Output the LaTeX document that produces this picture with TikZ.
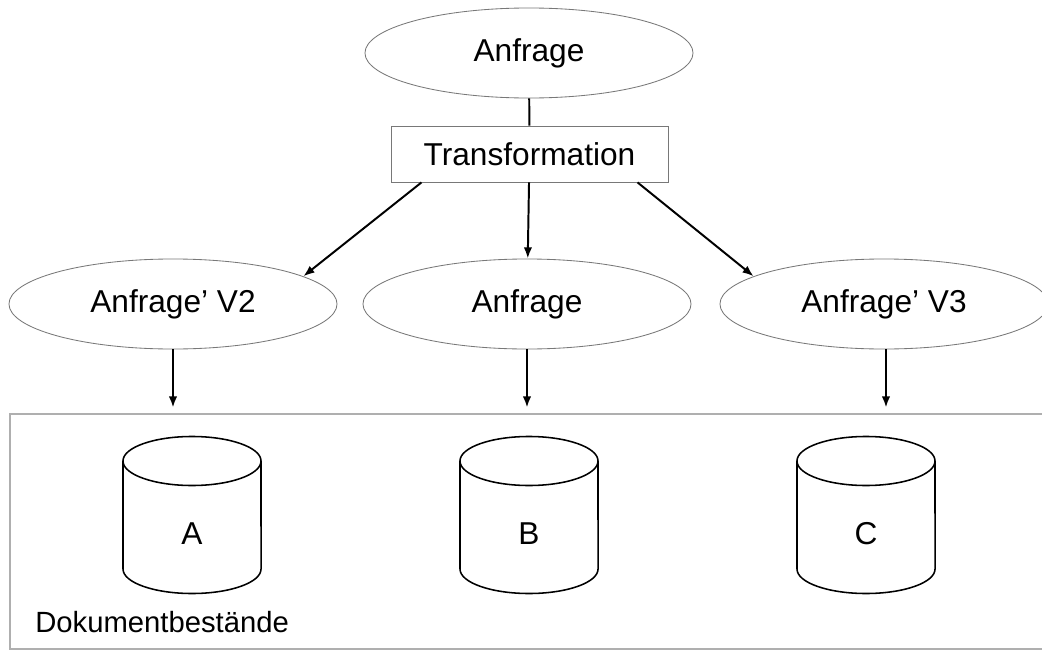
\documentclass[tikz,border=0pt]{standalone}
\usepackage{fontspec}
\setmainfont{Liberation Sans}
\usetikzlibrary{shapes.geometric,arrows.meta}
\definecolor{outline}{RGB}{120,120,120}
\definecolor{framegray}{RGB}{175,175,175}

\tikzset{
    query/.style    = {ellipse, draw=outline, line width=0.6pt, minimum width=8.2cm, minimum height=2.25cm,
                       inner sep=0pt, font=\fontsize{22.5}{27}\selectfont},
    transbox/.style = {rectangle, draw=outline, line width=0.6pt, minimum width=6.925cm, minimum height=1.4cm,
                       inner sep=0pt, font=\fontsize{22.5}{27}\selectfont},
    docframe/.style = {rectangle, draw=framegray, line width=1pt, minimum width=26.25cm, minimum height=5.875cm,
                       inner sep=0pt},
    dblabel/.style  = {font=\fontsize{22.5}{27}\selectfont, inner sep=0pt},
    docname/.style  = {font=\fontsize{20.8}{25}\selectfont, inner sep=0pt},
    link/.style     = {line width=1.4pt},
    arr/.style      = {link, -{Latex[length=8pt, width=6pt]}},
    cyl/.style      = {line width=1.1pt},
}

\begin{document}
\begin{tikzpicture}[x=0.025cm, y=-0.025cm]
    \useasboundingbox (0,0) rectangle (1042,651);
    \clip             (0,0) rectangle (1042,651);

    % Anfragen
    \node[query]    (q0) at (529,   53) {Anfrage};
    \node[transbox] (tr) at (529.5, 154) {Transformation};
    \node[query]    (v2) at (173,  304) {Anfrage' V2};
    \node[query]    (q1) at (527,  304) {Anfrage};
    \node[query]    (v3) at (884,  304) {Anfrage' V3};

    % Dokumentbestaende
    \node[docframe] (docs)    at (535, 531.5) {};
    \node[docname, anchor=base west] (docname) at (35, 632) {Dokumentbestände};

    \draw[cyl] (123,461) -- (123,569) arc (180:360:1.725cm and 0.6125cm) -- (261,461);
    \draw[cyl] (192,461) ellipse (1.725cm and 0.6125cm);
    \draw[cyl] (460,461) -- (460,569) arc (180:360:1.725cm and 0.6125cm) -- (598,461);
    \draw[cyl] (529,461) ellipse (1.725cm and 0.6125cm);
    \draw[cyl] (797,461) -- (797,569) arc (180:360:1.725cm and 0.6125cm) -- (935,461);
    \draw[cyl] (866,461) ellipse (1.725cm and 0.6125cm);
    \node[dblabel] (dba) at (192, 534) {A};
    \node[dblabel] (dbb) at (529, 534) {B};
    \node[dblabel] (dbc) at (866, 534) {C};

    % Verbindungen
    \draw[link] (q0) -- (tr);
    \draw[arr]  ([xshift=-2.7cm]tr.south) -- (v2.12);
    \draw[arr]  (tr) -- (q1);
    \draw[arr]  ([xshift=2.7cm]tr.south)  -- (v3.168);
    \draw[arr, shorten >=4pt] (v2.south) -- (v2.south |- docs.north);
    \draw[arr, shorten >=4pt] (q1.south) -- (q1.south |- docs.north);
    \draw[arr, shorten >=4pt] ([xshift=0.05cm]v3.south) -- ([xshift=0.05cm]v3.south |- docs.north);
\end{tikzpicture}
\end{document}
